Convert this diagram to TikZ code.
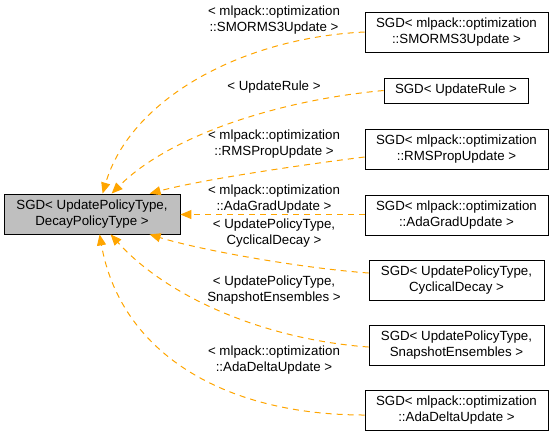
\documentclass[tikz,border=0pt]{standalone}
\usepackage{fontspec}
\setmainfont{Liberation Sans}
\usetikzlibrary{arrows.meta}

\definecolor{edgeorange}{HTML}{FFA500}
\definecolor{basegray}{HTML}{BFBFBF}

\tikzset{
  cls/.style={draw=black, line width=0.8pt, fill=white, align=center, inner sep=0pt,
    font=\fontsize{13.3}{15.5}\selectfont, minimum height=40pt},
  tmpl/.style={align=center, inner sep=0pt, font=\fontsize{13.3}{15.5}\selectfont},
  dep/.style={edgeorange, line width=1pt, dash pattern=on 6pt off 5pt,
    -{Triangle[length=11pt,width=9pt]}}
}

\begin{document}
\begin{tikzpicture}[x=1pt, y=-1pt]
  \useasboundingbox (0,0) rectangle (553,437);

  % Base
  \node[cls, fill=basegray, minimum width=176pt] (base) at (92,214) {SGD< UpdatePolicyType,\\ DecayPolicyType >};

  % Specialisations
  \node[cls, minimum width=183pt] (smorms) at (456.5,32) {SGD< mlpack::optimization\\ ::SMORMS3Update >};
  \node[cls, minimum width=144pt, minimum height=25pt] (rule) at (456,90.5) {SGD< UpdateRule >};
  \node[cls, minimum width=183pt] (rmsprop) at (456.5,149) {SGD< mlpack::optimization\\ ::RMSPropUpdate >};
  \node[cls, minimum width=183pt] (adagrad) at (456.5,215) {SGD< mlpack::optimization\\ ::AdaGradUpdate >};
  \node[cls, minimum width=175pt] (cyclic) at (456.5,280) {SGD< UpdatePolicyType,\\ CyclicalDecay >};
  \node[cls, minimum width=175pt] (snapshot) at (456.5,345) {SGD< UpdatePolicyType,\\ SnapshotEnsembles >};
  \node[cls, minimum width=183pt] (adadelta) at (456.5,410) {SGD< mlpack::optimization\\ ::AdaDeltaUpdate >};

  % Template arguments
  \node[tmpl] (lsmorms) at (274,20) {< mlpack::optimization\\ ::SMORMS3Update >};
  \node[tmpl] (lrule) at (274,87) {< UpdateRule >};
  \node[tmpl] (lrmsprop) at (274,144) {< mlpack::optimization\\ ::RMSPropUpdate >};
  \node[tmpl] (ladagrad) at (274,199) {< mlpack::optimization\\ ::AdaGradUpdate >};
  \node[tmpl] (lcyclic) at (274,233) {< UpdatePolicyType,\\ CyclicalDecay >};
  \node[tmpl] (lsnapshot) at (274,290) {< UpdatePolicyType,\\ SnapshotEnsembles >};
  \node[tmpl] (ladadelta) at (274,360) {< mlpack::optimization\\ ::AdaDeltaUpdate >};

  % Edges
  \draw[dep] (smorms.west) .. controls (240,38) and (130,100) .. ([xshift=99pt]base.north west);
  \draw[dep] (rule.west) .. controls (280,100) and (170,135) .. ([xshift=108pt]base.north west);
  \draw[dep] ([yshift=-8pt]rmsprop.west) .. controls (300,165) and (200,180) .. ([xshift=146pt]base.north west);
  \draw[dep] ([yshift=0.5pt]adagrad.west) -- ([yshift=0.5pt]base.east |- adagrad.west);
  \draw[dep] ([yshift=7pt]cyclic.west) .. controls (300,268) and (200,250) .. ([xshift=146pt]base.south west);
  \draw[dep] ([yshift=-2pt]snapshot.west) .. controls (270,340) and (170,300) .. ([xshift=107pt]base.south west);
  \draw[dep] ([yshift=-5pt]adadelta.west) .. controls (220,415) and (120,350) .. ([xshift=96pt]base.south west);
\end{tikzpicture}
\end{document}
